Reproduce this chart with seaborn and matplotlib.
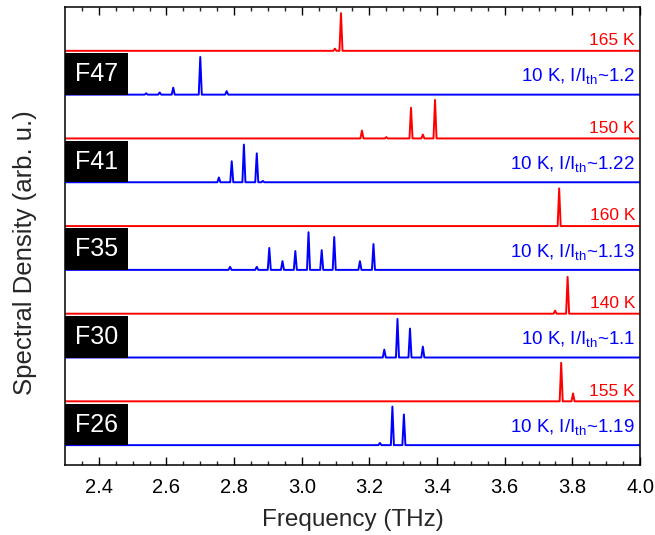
import numpy as np
import pandas as pd
import matplotlib
matplotlib.use("Agg")
import matplotlib.pyplot as plt
from matplotlib.patches import Rectangle
import seaborn as sns

# ---- data ----
# traces listed from bottom (index 0) to top (index 9)
trace_labels = ["10 K, I/I$_{\\mathrm{th}}$~1.19", "155 K",
                "10 K, I/I$_{\\mathrm{th}}$~1.1", "140 K",
                "10 K, I/I$_{\\mathrm{th}}$~1.13", "160 K",
                "10 K, I/I$_{\\mathrm{th}}$~1.22", "150 K",
                "10 K, I/I$_{\\mathrm{th}}$~1.2", "165 K"]
device_labels = ["F26", "F30", "F35", "F41", "F47"]

# peak centres (THz) and heights (arb. u.) for each trace
f26_pos = [3.231, 3.268, 3.302]
f26_amp = [0.05, 0.88, 0.70]
k155_pos = [3.767, 3.802]
k155_amp = [0.88, 0.18]
f30_pos = [3.244, 3.283, 3.320, 3.358]
f30_amp = [0.18, 0.88, 0.66, 0.25]
k140_pos = [3.749, 3.786]
k140_amp = [0.07, 0.84]
f35_pos = [2.788, 2.867, 2.904, 2.943, 2.981, 3.020, 3.059, 3.096, 3.172, 3.212]
f35_amp = [0.07, 0.07, 0.50, 0.20, 0.43, 0.86, 0.45, 0.75, 0.20, 0.59]
k160_pos = [3.761]
k160_amp = [0.86]
f41_pos = [2.755, 2.793, 2.829, 2.867, 2.885]
f41_amp = [0.11, 0.48, 0.86, 0.66, 0.03]
k150_pos = [3.178, 3.250, 3.323, 3.358, 3.394]
k150_amp = [0.18, 0.03, 0.70, 0.09, 0.88]
f47_pos = [2.540, 2.580, 2.620, 2.700, 2.778]
f47_amp = [0.03, 0.05, 0.16, 0.86, 0.08]
k165_pos = [3.098, 3.116]
k165_amp = [0.05, 0.86]

peak_pos = [f26_pos, k155_pos, f30_pos, k140_pos, f35_pos,
            k160_pos, f41_pos, k150_pos, f47_pos, k165_pos]
peak_amp = [f26_amp, k155_amp, f30_amp, k140_amp, f35_amp,
            k160_amp, f41_amp, k150_amp, f47_amp, k165_amp]

f_min, f_max = 2.3, 4.0
xticks = [2.4, 2.6, 2.8, 3.0, 3.2, 3.4, 3.6, 3.8, 4.0]

# ---- style ----
sns.set_style("ticks")
plt.rcParams["font.family"] = ["Liberation Sans", "DejaVu Sans"]
plt.rcParams["mathtext.fontset"] = "custom"
plt.rcParams["mathtext.rm"] = "Liberation Sans"
plt.rcParams["mathtext.it"] = "Liberation Sans:italic"

RED = "#ff0000"
BLUE = "#0000ff"

fig = plt.figure(figsize=(6.55, 5.35), dpi=100)
ax = fig.add_axes([0.0992, 0.1308, 0.8779, 0.8561])

hw = 0.0045  # half width of a drawn peak (THz)
for k in range(10):
    color = BLUE if k % 2 == 0 else RED
    xs = [f_min]
    ys = [0.0]
    for c, a in sorted(zip(peak_pos[k], peak_amp[k])):
        xs += [c - hw, c, c + hw]
        ys += [0.0, a, 0.0]
    xs.append(f_max)
    ys.append(0.0)
    df = pd.DataFrame({"f": xs, "s": np.array(ys) + k})
    sns.lineplot(data=df, x="f", y="s", color=color, lw=1.4,
                 estimator=None, sort=False, ax=ax, zorder=2)
    if color == RED:
        ax.text(3.985, k + 0.13, trace_labels[k], color=color, fontsize=12.5,
                ha="right", va="baseline", zorder=4)
    else:
        ax.text(3.985, k + 0.30, trace_labels[k], color=color, fontsize=13.5,
                ha="right", va="baseline", zorder=4)

# device label boxes
for j, name in enumerate(device_labels):
    k = 2 * j
    ax.add_patch(Rectangle((f_min, k), 0.187, 0.95, facecolor="black",
                           edgecolor="none", zorder=3))
    ax.text(f_min + 0.0935, k + 0.47, name, color="white", fontsize=18,
            ha="center", va="center", zorder=4)

ax.set_xlim(f_min, f_max)
ax.set_ylim(-0.454, 10.0)
ax.set_xticks(xticks)
ax.set_xticklabels([f"{t:.1f}" for t in xticks])
ax.set_xticks(np.arange(2.35, 4.0, 0.05), minor=True)
ax.set_yticks([])
ax.tick_params(axis="x", which="major", direction="in", top=True,
               length=6, width=1.0, labelsize=14.5, pad=9, colors="black")
ax.tick_params(axis="x", which="minor", direction="in", top=True,
               length=3, width=1.0)
for sp in ax.spines.values():
    sp.set_visible(True)
    sp.set_linewidth(1.1)
    sp.set_color("black")

ax.set_xlabel("Frequency (THz)", fontsize=17.5, labelpad=9)
ax.set_ylabel("Spectral Density (arb. u.)", fontsize=18.5)
ax.yaxis.set_label_coords(-0.049, 0.463)

fig.savefig("out.png", dpi=100)
